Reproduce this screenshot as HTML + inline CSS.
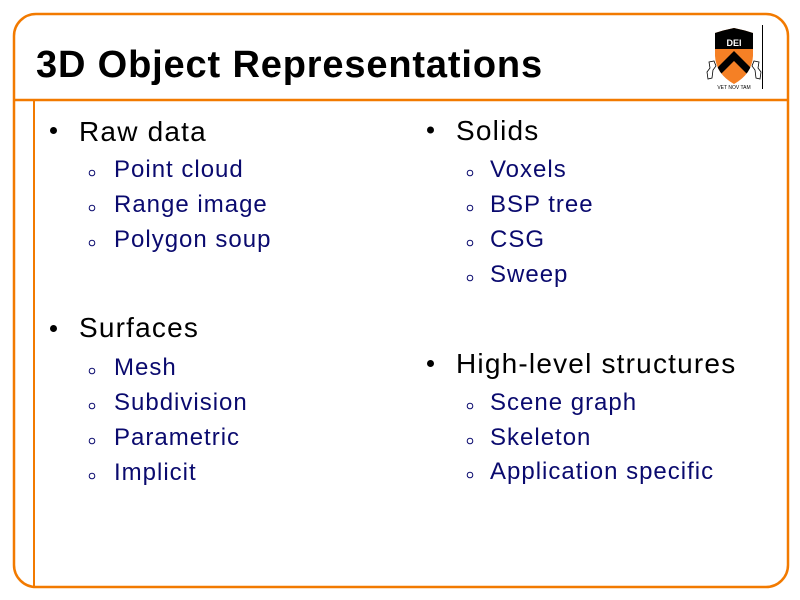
<!DOCTYPE html>
<html>
<head>
<meta charset="utf-8">
<style>
  html, body { margin: 0; padding: 0; background: #ffffff; }
  body { width: 800px; height: 600px; overflow: hidden; }
  svg { display: block; }
  .t { font-family: "Liberation Sans", Arial, sans-serif; }
</style>
</head>
<body>
<svg width="800" height="600" viewBox="0 0 800 600" xmlns="http://www.w3.org/2000/svg">
  <rect x="0" y="0" width="800" height="600" fill="#ffffff"/>

  <!-- Frame -->
  <rect x="14" y="14" width="774" height="573" rx="22" ry="22" fill="none" stroke="#f27a00" stroke-width="2.5"/>
  <line x1="14" y1="100" x2="788" y2="100" stroke="#f27a00" stroke-width="2.5"/>
  <line x1="34" y1="100" x2="34" y2="587" stroke="#f27a00" stroke-width="2"/>

  <!-- Title -->
  <text class="t" x="36" y="77" font-size="38" font-weight="bold" letter-spacing="0.85" fill="#000000">3D Object Representations</text>

  <!-- Logo -->
  <defs>
    <clipPath id="shield">
      <path d="M715,33 Q724,30 734,28 Q744,30 753,33 L753,56 Q752,74 734,84 Q716,74 715,56 Z"/>
    </clipPath>
  </defs>
  <g clip-path="url(#shield)">
    <rect x="712" y="26" width="44" height="60" fill="#f58025"/>
    <rect x="712" y="26" width="44" height="23" fill="#000000"/>
    <polyline points="716,74 734,56 752,74" fill="none" stroke="#000000" stroke-width="7"/>
  </g>
  <text class="t" x="734" y="46" font-size="9" font-weight="bold" fill="#ffffff" text-anchor="middle">DEI</text>
  <!-- scrolls -->
  <path d="M709,62 L714,61 L716,66 L713,70 L712,78 L708,79 L707,72 L710,68 Z" fill="none" stroke="#000" stroke-width="0.8"/>
  <path d="M759,62 L754,61 L752,66 L755,70 L756,78 L760,79 L761,72 L758,68 Z" fill="none" stroke="#000" stroke-width="0.8"/>
  <text class="t" x="734" y="89" font-size="5" fill="#000" text-anchor="middle">VET NOV TAM</text>
  <line x1="762.5" y1="25" x2="762.5" y2="89" stroke="#000" stroke-width="1"/>

  <!-- Left column -->
  <circle cx="53.5" cy="130.5" r="3.5" fill="#000"/>
  <text class="t" x="79" y="141" font-size="28" letter-spacing="1.2" fill="#000">Raw data</text>

  <g fill="none" stroke="#0a0a6e" stroke-width="1">
    <circle cx="92" cy="173" r="2.8"/>
    <circle cx="92" cy="208" r="2.8"/>
    <circle cx="92" cy="243" r="2.8"/>
    <circle cx="92" cy="371" r="2.8"/>
    <circle cx="92" cy="406" r="2.8"/>
    <circle cx="92" cy="441" r="2.8"/>
    <circle cx="92" cy="476" r="2.8"/>
    <circle cx="470" cy="173" r="2.8"/>
    <circle cx="470" cy="208" r="2.8"/>
    <circle cx="470" cy="243" r="2.8"/>
    <circle cx="470" cy="278" r="2.8"/>
    <circle cx="470" cy="406" r="2.8"/>
    <circle cx="470" cy="441" r="2.8"/>
    <circle cx="470" cy="475" r="2.8"/>
  </g>

  <g class="t" font-size="24" letter-spacing="1" fill="#0a0a6e">
    <text x="114" y="177">Point cloud</text>
    <text x="114" y="212">Range image</text>
    <text x="114" y="247">Polygon soup</text>
    <text x="114" y="375">Mesh</text>
    <text x="114" y="410">Subdivision</text>
    <text x="114" y="445">Parametric</text>
    <text x="114" y="480">Implicit</text>

    <text x="490" y="177">Voxels</text>
    <text x="490" y="212">BSP tree</text>
    <text x="490" y="247">CSG</text>
    <text x="490" y="282">Sweep</text>
    <text x="490" y="410">Scene graph</text>
    <text x="490" y="445">Skeleton</text>
    <text x="490" y="479">Application specific</text>
  </g>

  <circle cx="53.5" cy="328.5" r="3.5" fill="#000"/>
  <text class="t" x="79" y="337" font-size="28" letter-spacing="1.2" fill="#000">Surfaces</text>

  <!-- Right column -->
  <circle cx="430.5" cy="130" r="3.5" fill="#000"/>
  <text class="t" x="456" y="140" font-size="28" letter-spacing="1.2" fill="#000">Solids</text>

  <circle cx="430.5" cy="363.5" r="3.5" fill="#000"/>
  <text class="t" x="456" y="373" font-size="28" letter-spacing="1.2" fill="#000">High-level structures</text>
</svg>
</body>
</html>
